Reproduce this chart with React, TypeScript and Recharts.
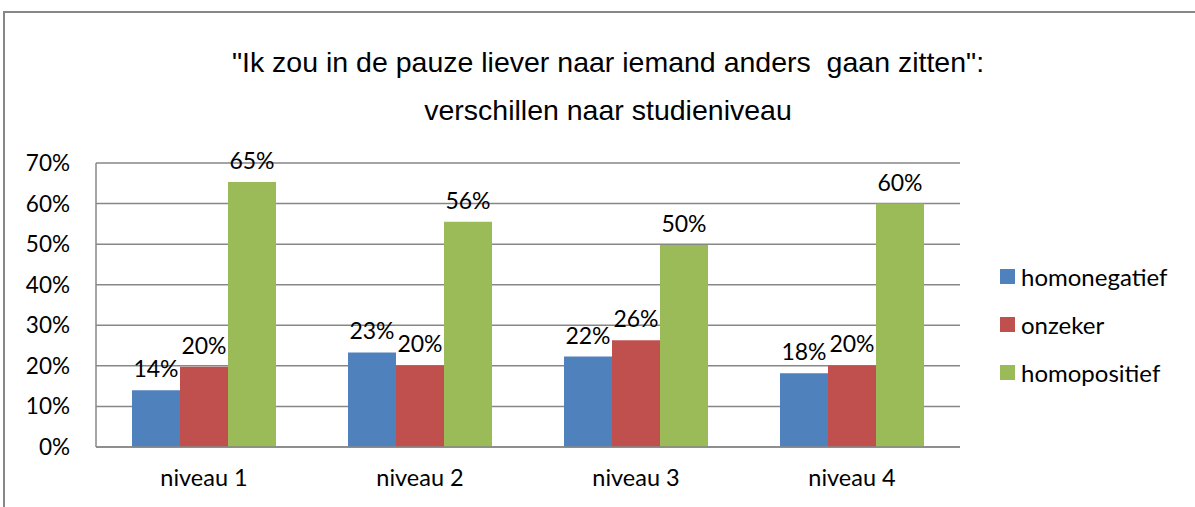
import React from 'react';
import { BarChart, Bar, XAxis, YAxis, CartesianGrid, LabelList, Legend } from 'recharts';

const categories = ['niveau 1', 'niveau 2', 'niveau 3', 'niveau 4'];
const homonegatief = [14.0, 23.3, 22.3, 18.2];
const onzeker = [19.8, 20.1, 26.3, 20.1];
const homopositief = [65.3, 55.5, 49.8, 60.0];
const yTicks = [0, 10, 20, 30, 40, 50, 60, 70];
const titleLines = ['"Ik zou in de pauze liever naar iemand anders  gaan zitten":', 'verschillen naar studieniveau'];

const seriesNames = ['homonegatief', 'onzeker', 'homopositief'];
const colors = ['#4F81BD', '#C0504D', '#9BBB59'];

const data = categories.map((c, i) => ({
  name: c,
  homonegatief: homonegatief[i],
  onzeker: onzeker[i],
  homopositief: homopositief[i],
}));

const FONT = 'Lato, "Open Sans", sans-serif';

const fmt = (v: any) => `${Math.round(Number(v))}%`;

const LegendContent = () => {
  return (
    <div style={{ fontFamily: FONT, fontSize: 24, color: '#000' }}>
      {seriesNames.map((s, i) => (
        <div key={s} style={{ display: 'flex', alignItems: 'center', height: 47.8 }}>
          <span style={{ display: 'inline-block', width: 15, height: 15, background: colors[i], marginRight: 6 }} />
          <span>{s}</span>
        </div>
      ))}
    </div>
  );
};

export default function App() {
  return (
    <div style={{ position: 'fixed', left: 0, top: 0, width: 1195, height: 507, overflow: 'hidden', background: '#fff' }}>
      <div style={{ position: 'absolute', left: 3, top: 11, width: 1300, height: 600, borderLeft: '2px solid #878787', borderTop: '2px solid #878787' }} />
      {titleLines.map((t, i) => (
        <div key={i} style={{ position: 'absolute', left: 0, width: 1216, top: i === 0 ? 45 : 93, textAlign: 'center', fontFamily: '"Liberation Sans", Arial, sans-serif', fontSize: 28.5, lineHeight: '34px', color: '#000', whiteSpace: 'pre' }}>{t}</div>
      ))}
      <div style={{ position: 'absolute', left: 0, top: 0 }}>
        <BarChart width={1195} height={507} data={data} margin={{ top: 163, right: 235, bottom: 0, left: 0 }} barCategoryGap={36} barGap={0}>
          <CartesianGrid vertical={false} stroke="#878787" strokeWidth={1.5} />
          <XAxis dataKey="name" height={60} tickLine={false} axisLine={{ stroke: '#878787', strokeWidth: 1.5 }} tick={{ fill: '#000', fontSize: 23.5, fontFamily: FONT }} tickMargin={16} />
          <YAxis width={96} domain={[0, 70]} ticks={yTicks} interval={0} tickFormatter={(v: any) => `${v}%`} tickLine={false} axisLine={{ stroke: '#878787', strokeWidth: 1.5 }} tick={{ fill: '#000', fontSize: 22.5, fontFamily: FONT }} tickMargin={20} />
          <Legend layout="vertical" align="center" verticalAlign="middle" wrapperStyle={{ left: 1000, top: 253, width: 195 }} content={LegendContent} />
          {seriesNames.map((s, i) => (
            <Bar key={s} dataKey={s} fill={colors[i]} isAnimationActive={false}>
              <LabelList dataKey={s} position="top" offset={13} formatter={fmt} style={{ fill: '#000', fontSize: 23, fontFamily: FONT }} />
            </Bar>
          ))}
        </BarChart>
      </div>
    </div>
  );
}
